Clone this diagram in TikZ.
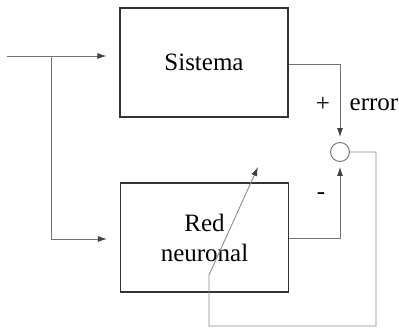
\documentclass[tikz,border=0pt]{standalone}
\usepackage{fontspec}
\setmainfont{Liberation Serif}
\usetikzlibrary{arrows.meta}
\begin{document}
\begin{tikzpicture}[x=1pt,y=-1pt,
  blk/.style={draw=black!80,line width=1.2pt,minimum width=168pt,minimum height=109pt,inner sep=0pt,font=\fontsize{25}{30}\selectfont,align=center},
  wire/.style={draw=black!55,line width=0.9pt},
  arr/.style={wire,-{Latex[length=9pt,width=6pt,color=black!75]}},
  lbl/.style={font=\fontsize{25}{30}\selectfont,inner sep=0pt}]
\useasboundingbox (0,0) rectangle (399,334);
\node[blk] (sis) at (204,62.5) {Sistema};
\node[blk] (red) at (204.5,237.5) {Red\\neuronal};
\node[circle,draw=black!55,line width=0.9pt,minimum size=19pt,inner sep=0pt] (sum) at (340,152) {};
\coordinate (in) at (7,56);
\coordinate (br) at (51,56);
\coordinate (fb) at (209,326);
\coordinate (kink) at (209,275);
\coordinate (tip) at (258,167);
\draw[arr,shorten >=13pt] (in) -- (sis.west |- in);
\draw[arr,shorten >=13pt] (br) |- (red.west |- 0,239);
\draw[arr,shorten >=5pt] (sis.east |- 0,64) -| (sum.north);
\draw[arr,shorten >=5pt] (red.east |- 0,238) -| (sum.south);
\draw[arr,black!45] (sum.east) -- (376,152) |- (fb) -- (kink) -- (tip);
\node[lbl] (plus) at (323,104) {+};
\node[lbl] (err) at (374,105) {error};
\node[lbl] (minus) at (321,196) {-};
\end{tikzpicture}
\end{document}
